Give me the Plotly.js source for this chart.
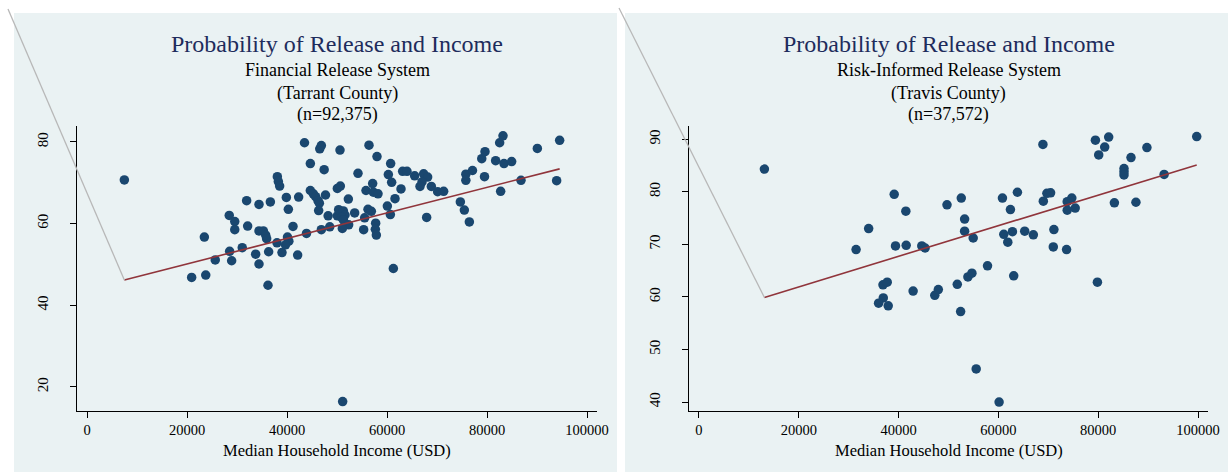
<!DOCTYPE html>
<html>
<head>
<meta charset="utf-8">
<script src="https://cdn.plot.ly/plotly-3.0.1.min.js"></script>
<style>html,body{margin:0;padding:0;background:#fff;}#chart{width:1228px;height:473px;}</style>
</head>
<body>
<div id="chart"></div>
<script>
// ---------- Data ----------
// Left panel: Tarrant County (Financial Release System)
const tarrantIncome = [7470,20930,23750,23470,25650,28450,29550,29550,28530,28930,31050,31930,32130,34400,36670,34400,35270,35730,35930,33730,34400,36330,36200,38000,39000,38070,38270,38530,39870,40270,41200,40100,40370,39700,42130,42330,43900,43500,44670,46550,46870,47430,44670,45270,45730,46200,46470,46330,47700,48230,46870,48550,50600,50070,50670,50070,50330,51270,51600,50930,51270,52330,51070,56400,58000,60730,54200,60270,60930,57130,63130,64000,65530,67330,68130,67000,66600,68870,70130,71330,55800,57270,58200,62800,52270,61600,60070,60670,53530,56200,56870,55530,55330,57730,57670,57870,67930,61270,74670,75470,76470,75770,75770,77100,79500,78950,79600,81730,82530,83200,83400,84930,82730,86800,90070,94530,93930,51130];
const tarrantRelease = [70.7,46.8,47.4,56.7,51.1,62.0,60.5,58.5,53.2,50.9,54.1,65.6,59.4,64.7,65.3,58.2,58.2,57.2,56.3,52.5,50.1,53.1,44.9,55.3,52.9,71.5,70.3,69.2,66.4,63.5,59.3,56.7,55.7,54.8,52.3,66.5,57.6,79.8,74.7,78.3,79.1,73.2,68.1,67.3,66.6,65.6,65.0,63.2,67.0,61.9,58.5,59.2,78.0,68.6,69.2,61.9,63.4,63.1,62.1,61.5,60.9,59.7,58.8,79.2,76.4,74.7,72.3,72.0,70.1,69.8,72.8,72.8,71.7,72.2,71.4,70.2,69.1,69.1,67.8,67.9,68.1,67.7,67.3,68.5,66.0,66.1,64.3,62.2,62.6,63.5,63.0,61.4,58.5,60.1,58.6,57.2,61.5,49.0,65.3,63.3,60.4,72.1,70.6,73.0,71.5,75.9,77.6,75.4,79.8,81.5,74.7,75.2,67.9,70.6,78.4,80.4,70.5,16.4];
const tarrantFitX = [7470, 94530];
const tarrantFitY = [46.2, 73.4];

// Right panel: Travis County (Risk-Informed Release System)
const travisIncome = [13110,31480,34000,39120,41450,39380,41520,44650,45310,36870,37720,36930,35990,37920,42910,47250,47960,49700,52560,53230,53230,54950,51760,53890,54690,52430,57820,60810,62410,61080,62810,61880,63070,63810,55550,60140,65270,67000,68920,69000,69720,70460,71120,71000,73660,73790,73790,74710,75390,79840,79440,80100,81300,82100,83240,85170,85170,85170,86570,87560,89760,93210,99740];
const travisRelease = [84.3,69.0,73.0,79.5,76.3,69.7,69.8,69.7,69.3,62.3,62.8,59.8,58.8,58.3,61.1,60.3,61.4,77.5,78.8,74.8,72.5,71.2,62.4,63.8,64.5,57.2,65.9,78.8,76.6,71.9,72.4,70.4,64.0,79.9,46.3,40.0,72.5,71.8,89.0,78.2,79.7,79.8,72.8,69.5,69.0,76.5,78.1,78.8,76.9,62.8,89.8,87.0,88.5,90.4,77.9,84.4,83.8,83.2,86.5,78.0,88.4,83.3,90.5];
const travisFitX = [13110, 99740];
const travisFitY = [59.9, 85.1];

const xTicks = [0, 20000, 40000, 60000, 80000, 100000];
const yTicksLeft = [20, 40, 60, 80];
const yTicksRight = [40, 50, 60, 70, 80, 90];

const mainTitle = "Probability of Release and Income";
const subTitlesLeft = ["Financial Release System", "(Tarrant County)", "(n=92,375)"];
const subTitlesRight = ["Risk-Informed Release System", "(Travis County)", "(n=37,572)"];
const xTitle = "Median Household Income (USD)";

// ---------- Style / layout ----------
const W = 1228, H = 473;
const FONT = "Liberation Serif, Times New Roman, serif";
const NAVY = "#1a476f", MAROON = "#90353b", BG = "#eaf2f3";
const px = v => v / W;
const py = v => 1 - v / H;

const xDomL = [px(77), px(597)], xDomR = [px(689), px(1208)];
const yDom = [py(411), py(126)];
const xRange = [-2000, 102000];
const yRangeL = [14.1, 83.9], yRangeR = [38.3, 92.5];

function toPaperX(v, dom) { return dom[0] + (v - xRange[0]) / (xRange[1] - xRange[0]) * (dom[1] - dom[0]); }
function toPaperY(v, rng) { return yDom[0] + (v - rng[0]) / (rng[1] - rng[0]) * (yDom[1] - yDom[0]); }

const traces = [
  {x: tarrantIncome, y: tarrantRelease, type: 'scatter', mode: 'markers', xaxis: 'x', yaxis: 'y',
   marker: {color: NAVY, size: 9.5}},
  {x: tarrantFitX, y: tarrantFitY, type: 'scatter', mode: 'lines', xaxis: 'x', yaxis: 'y',
   line: {color: MAROON, width: 1.6}},
  {x: travisIncome, y: travisRelease, type: 'scatter', mode: 'markers', xaxis: 'x2', yaxis: 'y2',
   marker: {color: NAVY, size: 9.5}},
  {x: travisFitX, y: travisFitY, type: 'scatter', mode: 'lines', xaxis: 'x2', yaxis: 'y2',
   line: {color: MAROON, width: 1.6}}
];

function xAxis(dom, anchor) {
  return {domain: dom, anchor: anchor, range: xRange, tickmode: 'array', tickvals: xTicks,
    ticktext: xTicks.map(String), ticks: 'outside', ticklen: 6, tickwidth: 1, tickcolor: '#000',
    showline: true, linecolor: '#000', linewidth: 1, showgrid: false, zeroline: false,
    ticklabelstandoff: 0,
    tickfont: {family: FONT, size: 14.5, color: '#000'}, fixedrange: true};
}
function yAxis(dom, anchor, rng, ticks) {
  return {domain: dom, anchor: anchor, range: rng, tickmode: 'array', tickvals: ticks,
    ticktext: ticks.map(String), ticks: 'outside', ticklen: 6, tickwidth: 1, tickcolor: '#000',
    showline: true, linecolor: '#000', linewidth: 1, showgrid: true, gridcolor: BG, gridwidth: 1.2,
    zeroline: false, tickangle: -90, ticklabelstandoff: 16,
    tickfont: {family: FONT, size: 15, color: '#000'}, fixedrange: true};
}

const shapes = [
  {type: 'rect', xref: 'paper', yref: 'paper', x0: px(14), x1: px(617), y0: py(472), y1: py(13),
   fillcolor: BG, line: {width: 0}, layer: 'below'},
  {type: 'rect', xref: 'paper', yref: 'paper', x0: px(625), x1: px(1228), y0: py(472), y1: py(13),
   fillcolor: BG, line: {width: 0}, layer: 'below'},
  {type: 'line', xref: 'paper', yref: 'paper', x0: px(8), y0: py(9),
   x1: toPaperX(tarrantFitX[0], xDomL), y1: toPaperY(tarrantFitY[0], yRangeL),
   line: {color: '#b8b8b8', width: 1.3}, layer: 'above'},
  {type: 'line', xref: 'paper', yref: 'paper', x0: px(619), y0: py(8),
   x1: toPaperX(travisFitX[0], xDomR), y1: toPaperY(travisFitY[0], yRangeR),
   line: {color: '#b8b8b8', width: 1.3}, layer: 'above'}
];

const annotations = [];
function addTitles(dom, subs) {
  const cx = (dom[0] + dom[1]) / 2;
  annotations.push({xref: 'paper', yref: 'paper', x: cx, y: py(44), xanchor: 'center', yanchor: 'middle',
    text: mainTitle, showarrow: false, font: {family: FONT, size: 24, color: '#1e2c5c'}});
  const ys = [70, 93, 115];
  subs.forEach((s, i) => annotations.push({xref: 'paper', yref: 'paper', x: cx, y: py(ys[i]),
    xanchor: 'center', yanchor: 'middle', text: s, showarrow: false,
    font: {family: FONT, size: 18, color: '#000'}}));
  annotations.push({xref: 'paper', yref: 'paper', x: cx, y: py(450), xanchor: 'center', yanchor: 'middle',
    text: xTitle, showarrow: false, font: {family: FONT, size: 16.5, color: '#000'}});
}
addTitles(xDomL, subTitlesLeft);
addTitles(xDomR, subTitlesRight);

const layout = {
  width: W, height: H, margin: {l: 0, r: 0, t: 0, b: 0, pad: 0},
  paper_bgcolor: '#ffffff', plot_bgcolor: '#ffffff', showlegend: false,
  xaxis: xAxis(xDomL, 'y'), yaxis: yAxis(yDom, 'x', yRangeL, yTicksLeft),
  xaxis2: xAxis(xDomR, 'y2'), yaxis2: yAxis(yDom, 'x2', yRangeR, yTicksRight),
  shapes: shapes, annotations: annotations, font: {family: FONT}
};

Plotly.newPlot('chart', traces, layout, {displayModeBar: false, staticPlot: true});
</script>
</body>
</html>
